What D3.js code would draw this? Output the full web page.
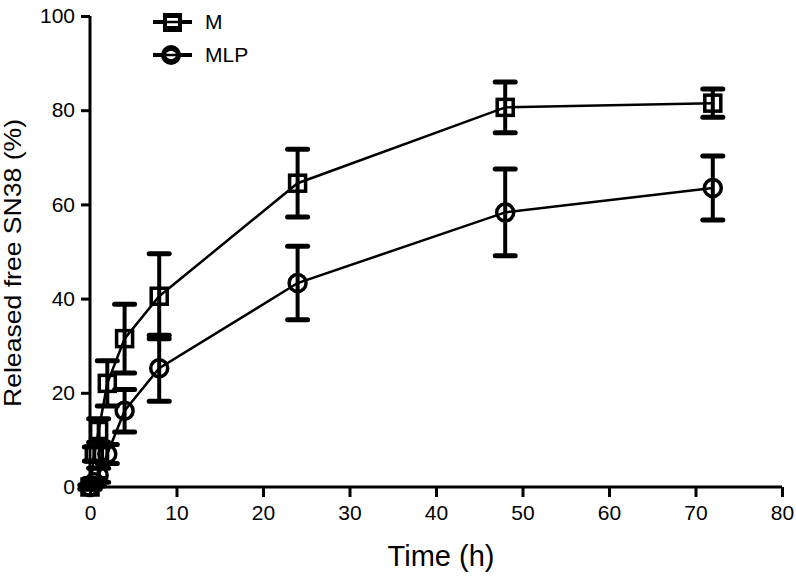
<!DOCTYPE html>
<html>
<head>
<meta charset="utf-8">
<script src="https://cdn.jsdelivr.net/npm/d3@7"></script>
<style>
  html, body { margin: 0; padding: 0; background: #fff; }
  svg { display: block; }
  text { font-family: "Liberation Sans", Arial, Helvetica, sans-serif; fill: #000; }
</style>
</head>
<body>
<svg id="chart" width="796" height="576"></svg>
<script>
const times = [0, 0.5, 1, 2, 4, 8, 24, 48, 72];
const seriesNames = ["M", "MLP"];
const valuesM = [0, 7, 12, 22, 31.5, 40.5, 64.5, 80.6, 81.5];
const errM = [0.5, 1.5, 2.5, 4.8, 7.3, 9, 7.2, 5.4, 3];
const valuesMLP = [0, 1, 2.5, 7, 16.2, 25.2, 43.3, 58.3, 63.5];
const errMLP = [0.3, 0.8, 1.5, 2, 4.5, 7, 7.8, 9.2, 6.8];
const xTicks = [0, 10, 20, 30, 40, 50, 60, 70, 80];
const yTicks = [0, 20, 40, 60, 80, 100];

const svg = d3.select("#chart");
const x = d3.scaleLinear().domain([0, 80]).range([90, 782]);
const y = d3.scaleLinear().domain([0, 100]).range([487, 16]);

// axes
const xAxis = svg.append("g").attr("transform", `translate(0,${y(0)})`)
  .call(d3.axisBottom(x).tickValues(xTicks).tickSize(10).tickPadding(8).tickFormat(d3.format("d")));
const yAxis = svg.append("g").attr("transform", `translate(${x(0)},0)`)
  .call(d3.axisLeft(y).tickValues(yTicks).tickSize(9).tickPadding(6).tickFormat(d3.format("d")));
[xAxis, yAxis].forEach(g => {
  g.select(".domain").attr("stroke", "#000").attr("stroke-width", 3);
  g.selectAll(".tick line").attr("stroke", "#000").attr("stroke-width", 3);
  g.selectAll(".tick text").style("font-size", "21px").style("font-family", "'Liberation Sans', Arial, sans-serif");
});
xAxis.select(".domain").attr("d", `M${x(0) - 8},0H${x(80)}`);
yAxis.select(".domain").attr("d", `M0,${y(100)}V${y(0)}`);

// titles
svg.append("text").attr("x", 441).attr("y", 566).attr("text-anchor", "middle")
  .style("font-size", "29px").text("Time (h)");
svg.append("text").attr("transform", "translate(21,263) rotate(-90)").attr("text-anchor", "middle")
  .attr("textLength", 288).attr("lengthAdjust", "spacingAndGlyphs")
  .style("font-size", "24px").text("Released free SN38 (%)");

const series = [
  { name: seriesNames[0], vals: valuesM, err: errM, shape: "square" },
  { name: seriesNames[1], vals: valuesMLP, err: errMLP, shape: "circle" }
];

const line = d3.line().x((d, i) => x(times[i])).y(d => y(d));

function drawMarker(g, shape, cx, cy) {
  if (shape === "square") {
    g.append("rect").attr("x", cx - 8).attr("y", cy - 8).attr("width", 16).attr("height", 16)
      .attr("fill", "none").attr("stroke", "#000").attr("stroke-width", 3.5);
  } else {
    g.append("circle").attr("cx", cx).attr("cy", cy).attr("r", 8.5)
      .attr("fill", "none").attr("stroke", "#000").attr("stroke-width", 3.5);
  }
}

series.forEach(s => {
  const g = svg.append("g");
  // error bars
  s.vals.forEach((v, i) => {
    const cx = x(times[i]);
    const top = y(v + s.err[i]), bot = y(v - s.err[i]);
    g.append("line").attr("x1", cx).attr("x2", cx).attr("y1", top).attr("y2", bot)
      .attr("stroke", "#000").attr("stroke-width", 4);
    [top, bot].forEach(yy => g.append("line").attr("x1", cx - 10).attr("x2", cx + 10)
      .attr("y1", yy).attr("y2", yy).attr("stroke", "#000").attr("stroke-width", 5)
      .attr("stroke-linecap", "round"));
  });
  g.append("path").attr("d", line(s.vals)).attr("fill", "none").attr("stroke", "#000").attr("stroke-width", 2.5);
  s.vals.forEach((v, i) => drawMarker(g, s.shape, x(times[i]), y(v)));
});

// legend
series.forEach((s, i) => {
  const ly = 22 + i * 33;
  const g = svg.append("g");
  g.append("line").attr("x1", 153).attr("x2", 192).attr("y1", ly).attr("y2", ly)
    .attr("stroke", "#000").attr("stroke-width", 4);
  if (s.shape === "square") {
    g.append("rect").attr("x", 163).attr("y", ly - 9).attr("width", 19).attr("height", 19)
      .attr("fill", "#000");
    g.append("rect").attr("x", 167).attr("y", ly - 4).attr("width", 11).attr("height", 8)
      .attr("fill", "#fff");
    g.append("line").attr("x1", 167).attr("x2", 178).attr("y1", ly).attr("y2", ly).attr("stroke", "#000").attr("stroke-width", 2.5);
  } else {
    g.append("circle").attr("cx", 171).attr("cy", ly).attr("r", 10).attr("fill", "#000");
    g.append("ellipse").attr("cx", 171).attr("cy", ly).attr("rx", 5).attr("ry", 4).attr("fill", "#fff");
    g.append("line").attr("x1", 166).attr("x2", 176).attr("y1", ly).attr("y2", ly).attr("stroke", "#000").attr("stroke-width", 2.5);
  }
  g.append("text").attr("x", 205).attr("y", ly + 7).style("font-size", "21px").text(s.name);
});
</script>
</body>
</html>
